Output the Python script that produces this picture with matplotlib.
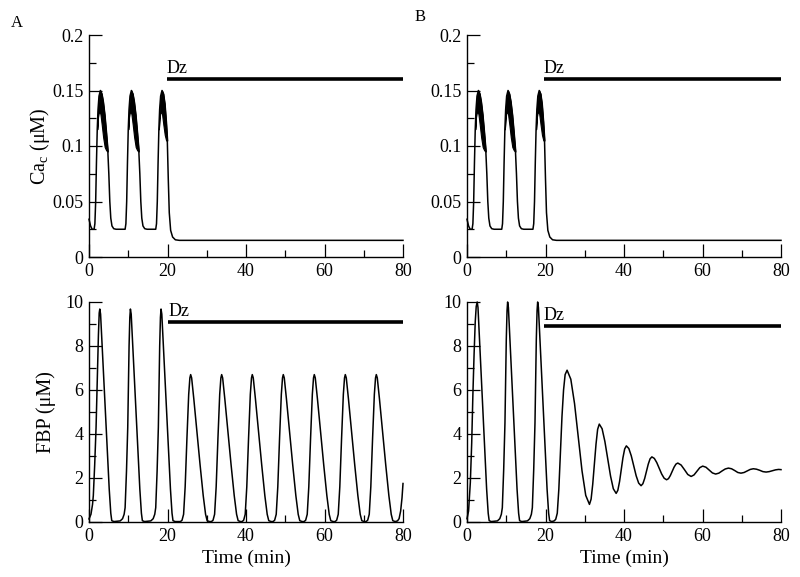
import matplotlib
matplotlib.use("Agg")
import matplotlib.pyplot as plt
import numpy as np

plt.rcParams['font.family'] = ['Liberation Serif', 'DejaVu Serif']
plt.rcParams['mathtext.fontset'] = 'custom'
plt.rcParams['mathtext.rm'] = 'Liberation Serif'
plt.rcParams['mathtext.it'] = 'Liberation Serif:italic'

# ---------------- data ----------------
# Panel A, top: cytosolic Ca (uM) vs time (min)
ca_a_t = [0, 0.4, 0.8, 1.3,
          1.5, 1.7, 1.9, 2.1, 2.3, 2.55, 2.9, 3.25, 3.6, 4.0, 4.4, 4.8, 5.05, 5.3, 5.55, 5.85, 6.3, 6.9,
          9.2, 9.4, 9.6, 9.8, 10.0, 10.2, 10.45, 10.8, 11.15, 11.5, 11.9, 12.3, 12.7, 12.95, 13.2, 13.45,
          13.75, 14.2, 14.8,
          17.0, 17.2, 17.4, 17.6, 17.8, 18.0, 18.25, 18.6, 18.95, 19.3, 19.65, 19.95, 20.2, 20.45,
          20.8, 21.3, 22.0, 23.0, 80]
ca_a_v = [0.034, 0.028, 0.025, 0.025,
          0.03, 0.05, 0.085, 0.115, 0.133, 0.145, 0.150, 0.147, 0.140, 0.128, 0.112, 0.095, 0.075, 0.05,
          0.035, 0.028, 0.0255, 0.025,
          0.025, 0.03, 0.05, 0.085, 0.115, 0.133, 0.145, 0.150, 0.147, 0.140, 0.128, 0.112, 0.095, 0.075,
          0.05, 0.035, 0.028, 0.0255, 0.025,
          0.025, 0.03, 0.05, 0.085, 0.115, 0.133, 0.145, 0.150, 0.147, 0.138, 0.122, 0.105, 0.07, 0.04,
          0.024, 0.018, 0.0155, 0.015, 0.015]
# inner edge of the fast-spiking (black) band of each burst
ca_a_band_t = [[2.1, 2.3, 2.55, 2.9, 3.25, 3.6, 4.0, 4.4, 4.8],
               [10.0, 10.2, 10.45, 10.8, 11.15, 11.5, 11.9, 12.3, 12.7],
               [17.8, 18.0, 18.25, 18.6, 18.95, 19.3, 19.65, 19.95]]
ca_a_band_lo = [[0.115, 0.126, 0.131, 0.129, 0.119, 0.108, 0.099, 0.096, 0.095],
                [0.115, 0.126, 0.131, 0.129, 0.119, 0.108, 0.099, 0.096, 0.095],
                [0.115, 0.126, 0.131, 0.129, 0.119, 0.110, 0.105, 0.105]]

# Panel B, top
ca_b_t = [0, 0.4, 0.8, 1.3,
          1.5, 1.7, 1.9, 2.1, 2.3, 2.55, 2.9, 3.25, 3.6, 4.0, 4.4, 4.8, 5.05, 5.3, 5.55, 5.85, 6.3, 6.9,
          8.85, 9.05, 9.25, 9.45, 9.65, 9.85, 10.1, 10.45, 10.8, 11.15, 11.55, 11.95, 12.35, 12.6, 12.85,
          13.1, 13.4, 13.85, 14.45,
          16.8, 17.0, 17.2, 17.4, 17.6, 17.8, 18.05, 18.4, 18.75, 19.1, 19.45, 19.75, 20.0, 20.25,
          20.6, 21.1, 21.8, 22.8, 80]
ca_b_v = ca_a_v
ca_b_band_t = [[2.1, 2.3, 2.55, 2.9, 3.25, 3.6, 4.0, 4.4, 4.8],
               [9.65, 9.85, 10.1, 10.45, 10.8, 11.15, 11.55, 11.95, 12.35],
               [17.6, 17.8, 18.05, 18.4, 18.75, 19.1, 19.45, 19.75]]
ca_b_band_lo = ca_a_band_lo

# Panel A, bottom: FBP (uM)
fbp_a_t = [0, 0.5, 0.9, 1.1, 1.45, 1.8, 2.1, 2.4, 2.6, 2.75, 2.95, 3.35, 3.95, 4.55, 5.15, 5.55, 5.8, 6.35,
           7.95, 8.55, 8.95, 9.2, 9.55, 9.87, 10.21, 10.4, 10.55, 10.75, 11.15, 11.75, 12.35, 12.95, 13.35,
           13.6, 14.15,
           15.75, 16.35, 16.75, 17.0, 17.35, 17.67, 18.01, 18.2, 18.35, 18.55, 18.95, 19.55, 20.15, 20.75,
           21.15, 21.4, 21.95,
           23.3, 23.7, 24.1, 24.5, 24.95, 25.4, 25.7, 25.9, 26.15, 26.7, 27.5, 28.3, 29.1, 29.7, 30.1, 30.7,
           31.2, 31.6, 32.0, 32.4, 32.85, 33.3, 33.6, 33.8, 34.05, 34.6, 35.4, 36.2, 37.0, 37.6, 38.0, 38.6,
           39.0, 39.4, 39.8, 40.2, 40.65, 41.1, 41.4, 41.6, 41.85, 42.4, 43.2, 44.0, 44.8, 45.4, 45.8, 46.4,
           46.9, 47.3, 47.7, 48.1, 48.55, 49.0, 49.3, 49.5, 49.75, 50.3, 51.1, 51.9, 52.7, 53.3, 53.7, 54.3,
           54.8, 55.2, 55.6, 56.0, 56.45, 56.9, 57.2, 57.4, 57.65, 58.2, 59.0, 59.8, 60.6, 61.2, 61.6, 62.2,
           62.7, 63.1, 63.5, 63.9, 64.35, 64.8, 65.1, 65.3, 65.55, 66.1, 66.9, 67.7, 68.5, 69.1, 69.5, 70.1,
           70.6, 71.0, 71.4, 71.8, 72.25, 72.7, 73.0, 73.2, 73.45, 74.0, 74.8, 75.6, 76.4, 77.0, 77.4, 78.0,
           78.6, 79.0, 79.4, 79.75, 80.0]
fbp_a_v = [0.14, 0.35, 0.8, 1.2, 2.6, 4.3, 6.5, 8.5, 9.5, 9.68, 9.45, 8.0, 5.8, 3.6, 1.5, 0.4, 0.06, 0.02,
           0.05, 0.15, 0.35, 0.65, 2.3, 4.3, 8.0, 9.3, 9.68, 9.45, 8.0, 5.8, 3.6, 1.5, 0.4, 0.06, 0.02,
           0.05, 0.15, 0.35, 0.65, 2.3, 4.3, 8.0, 9.3, 9.68, 9.45, 8.0, 5.8, 3.6, 1.5, 0.4, 0.06, 0.02,
           0.02, 0.08, 0.35, 1.6, 3.8, 5.8, 6.55, 6.7, 6.55, 5.6, 4.1, 2.6, 1.2, 0.35, 0.06, 0.02,
           0.02, 0.08, 0.35, 1.6, 3.8, 5.8, 6.55, 6.7, 6.55, 5.6, 4.1, 2.6, 1.2, 0.35, 0.06, 0.02,
           0.02, 0.08, 0.35, 1.6, 3.8, 5.8, 6.55, 6.7, 6.55, 5.6, 4.1, 2.6, 1.2, 0.35, 0.06, 0.02,
           0.02, 0.08, 0.35, 1.6, 3.8, 5.8, 6.55, 6.7, 6.55, 5.6, 4.1, 2.6, 1.2, 0.35, 0.06, 0.02,
           0.02, 0.08, 0.35, 1.6, 3.8, 5.8, 6.55, 6.7, 6.55, 5.6, 4.1, 2.6, 1.2, 0.35, 0.06, 0.02,
           0.02, 0.08, 0.35, 1.6, 3.8, 5.8, 6.55, 6.7, 6.55, 5.6, 4.1, 2.6, 1.2, 0.35, 0.06, 0.02,
           0.02, 0.08, 0.35, 1.6, 3.8, 5.8, 6.55, 6.7, 6.55, 5.6, 4.1, 2.6, 1.2, 0.35, 0.06, 0.02,
           0.05, 0.15, 0.5, 1.1, 1.75]

# Panel B, bottom
fbp_b_t = [0, 0.4, 0.85, 1.2, 1.5, 1.8, 2.1, 2.35, 2.6, 2.8, 3.2, 3.8, 4.4, 5.0, 5.4, 5.65, 6.2,
           7.75, 8.35, 8.75, 9.0, 9.35, 9.67, 10.01, 10.2, 10.35, 10.55, 10.95, 11.55, 12.15, 12.75, 13.15,
           13.4, 13.95,
           15.4, 16.0, 16.4, 16.65, 17.0, 17.32, 17.66, 17.85, 18.0, 18.2, 18.6, 19.2, 19.8, 20.4, 20.8,
           21.05, 21.6,
           22.2, 22.6, 23.0, 23.4, 23.8, 24.2, 24.6, 25.0, 25.5,
           26.45, 27.4, 28.35, 29.3, 30.25, 31.2,
           31.62, 32.03, 32.45, 32.87, 33.28, 33.7,
           34.42, 35.13, 35.85, 36.57, 37.28, 38.0,
           38.43, 38.87, 39.3, 39.73, 40.17, 40.6,
           41.23, 41.85, 42.48, 43.1, 43.73, 44.35,
           44.81, 45.27, 45.73, 46.18, 46.64, 47.1,
           47.73, 48.35, 48.98, 49.6, 50.23, 50.85,
           51.33, 51.8, 52.28, 52.75, 53.23, 53.7,
           54.55, 55.4, 56.25, 57.1, 57.84, 58.58, 59.31, 60.05,
           60.88, 61.7, 62.53, 63.35, 64.16, 64.98, 65.79, 66.6, 67.4, 68.2, 69.0, 69.8,
           70.59, 71.38, 72.16, 72.95, 73.76, 74.58, 75.39, 76.2, 77.0, 77.8, 78.6, 79.4, 80.0]
fbp_b_v = [0.15, 0.5, 1.8, 3.6, 5.8, 7.6, 9.1, 9.8, 10.0, 9.75, 8.25, 6.0, 3.7, 1.5, 0.4, 0.06, 0.02,
           0.05, 0.15, 0.35, 0.65, 2.4, 4.5, 8.3, 9.6, 10.0, 9.75, 8.25, 6.0, 3.7, 1.5, 0.4, 0.06, 0.02,
           0.05, 0.15, 0.35, 0.65, 2.4, 4.5, 8.3, 9.6, 10.0, 9.75, 8.25, 6.0, 3.7, 1.5, 0.4, 0.06, 0.02,
           0.05, 0.12, 0.4, 1.5, 3.2, 4.8, 6.0, 6.7, 6.9,
           6.49, 5.38, 3.85, 2.33, 1.21, 0.8,
           1.04, 1.71, 2.63, 3.54, 4.21, 4.45,
           4.24, 3.66, 2.88, 2.09, 1.51, 1.3,
           1.44, 1.84, 2.38, 2.92, 3.32, 3.46,
           3.34, 3.01, 2.56, 2.10, 1.77, 1.65,
           1.74, 1.98, 2.31, 2.63, 2.87, 2.96,
           2.89, 2.70, 2.44, 2.18, 1.99, 1.92,
           1.97, 2.11, 2.30, 2.49, 2.63, 2.68,
           2.59, 2.38, 2.16, 2.07, 2.14, 2.31, 2.47, 2.54,
           2.49, 2.36, 2.23, 2.18, 2.22, 2.32, 2.41, 2.45, 2.42, 2.34, 2.25, 2.22,
           2.25, 2.32, 2.39, 2.42, 2.40, 2.35, 2.29, 2.27, 2.29, 2.33, 2.37, 2.39, 2.38]

# Dz application bars: (start time, level)
dz_ca = [(19.8, 0.16), (19.6, 0.16)]
dz_fbp = [(20.2, 9.1), (19.5, 8.9)]

time_ticks = [0, 20, 40, 60, 80]
ca_ticks = [0, 0.05, 0.1, 0.15, 0.2]
ca_ticklabels = ['0', '0.05', '0.1', '0.15', '0.2']
fbp_ticks = [0, 2, 4, 6, 8, 10]
panel_labels = ['A', 'B']

# ---------------- figure ----------------
fig = plt.figure(figsize=(8.0, 5.77), dpi=100)
lefts = [89 / 800, 467 / 800]
width = 314 / 800
top_box = (1 - 257 / 577, 222 / 577)
bot_box = (1 - 522 / 577, 220 / 577)


def style_axis(ax, yticks, ylabels, yminor):
    ax.spines['top'].set_visible(False)
    ax.spines['right'].set_visible(False)
    for s in ('left', 'bottom'):
        ax.spines[s].set_linewidth(1.0)
    ax.set_xlim(0, 80)
    ax.set_xticks(time_ticks)
    ax.set_xticks(np.arange(10, 80, 20), minor=True)
    ax.set_yticks(yticks)
    ax.set_yticklabels(ylabels)
    ax.set_yticks(yminor, minor=True)
    ax.set_ylim(yticks[0], yticks[-1])
    ax.tick_params(which='both', direction='in', width=0.9, labelsize=13, pad=4)
    ax.tick_params(which='major', length=9.5)
    ax.tick_params(which='minor', length=5)


for i in range(2):
    ax_ca = fig.add_axes([lefts[i], top_box[0], width, top_box[1]])
    ax_fb = fig.add_axes([lefts[i], bot_box[0], width, bot_box[1]])

    ca_t = [ca_a_t, ca_b_t][i]
    ca_v = [ca_a_v, ca_b_v][i]
    band_t = [ca_a_band_t, ca_b_band_t][i]
    band_lo = [ca_a_band_lo, ca_b_band_lo][i]
    ax_ca.plot(ca_t, ca_v, color='black', lw=1.1, clip_on=False)
    for bt, bl in zip(band_t, band_lo):
        hi = np.interp(bt, ca_t, ca_v)
        ax_ca.fill_between(bt, bl, hi, color='black', lw=0.8, edgecolor='black')
    style_axis(ax_ca, ca_ticks, ca_ticklabels, np.arange(0.025, 0.2, 0.05))

    fb_t = [fbp_a_t, fbp_b_t][i]
    fb_v = [fbp_a_v, fbp_b_v][i]
    ax_fb.plot(fb_t, fb_v, color='black', lw=1.1, clip_on=False)
    style_axis(ax_fb, fbp_ticks, [str(v) for v in fbp_ticks], np.arange(1, 10, 2))

    for ax, (x0, lev) in ((ax_ca, dz_ca[i]), (ax_fb, dz_fbp[i])):
        ax.plot([x0, 80], [lev, lev], color='black', lw=2.6, solid_capstyle='butt')
        ax.annotate('Dz', (x0, lev), xytext=(0, 1.5), textcoords='offset points',
                    ha='left', va='bottom', fontsize=13)

    ax_fb.set_xlabel('Time (min)', fontsize=14, labelpad=4)
    if i == 0:
        ax_ca.set_ylabel(r'Ca$_\mathrm{c}$ (μM)', fontsize=14.5, labelpad=0)
        ax_fb.set_ylabel('FBP (μM)', fontsize=14.5, labelpad=7)

fig.text(17 / 800, 1 - 23 / 577, panel_labels[0], fontsize=12, ha='center', va='center')
fig.text(420 / 800, 1 - 17 / 577, panel_labels[1], fontsize=12, ha='center', va='center')

fig.savefig('out.png', dpi=100)
